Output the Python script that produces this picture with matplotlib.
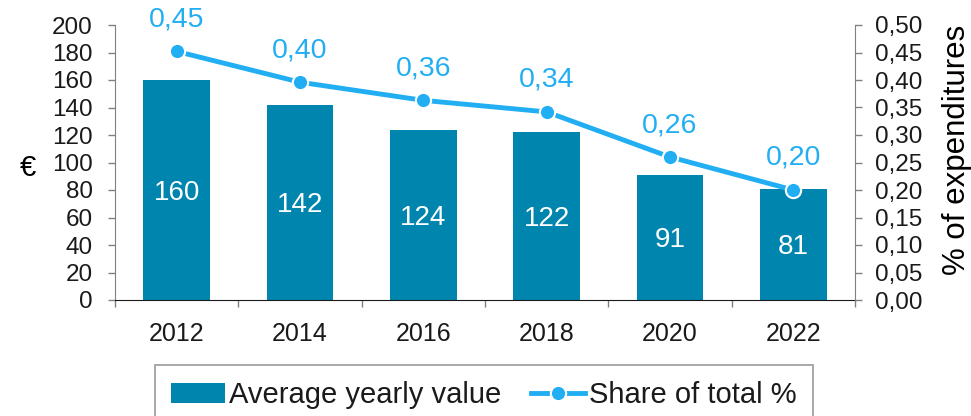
#! /usr/bin/env python3
"""
Average yearly value and share of total expenditures, bars plus line
"""

import matplotlib
matplotlib.use("Agg")
import matplotlib.pyplot as plt
from matplotlib.ticker import FixedLocator, FuncFormatter

years = ["2012", "2014", "2016", "2018", "2020", "2022"]
avg_value = [160, 142, 124, 122, 91, 81]
share_total = [0.452, 0.396, 0.363, 0.342, 0.260, 0.200]
left_ticks = list(range(0, 201, 20))
right_ticks = [i * 0.05 for i in range(11)]


def comma(v, pos=None):
    return f"{v:.2f}".replace(".", ",")


def main():
    colour_bar, colour_line = "#0086ae", "#22aef2"
    colour_text, colour_grey = "#1a1a1a", "#808080"
    plt.rcParams["font.family"] = ["Liberation Sans", "DejaVu Sans"]
    plt.rcParams["text.color"] = colour_text
    plt.rcParams["xtick.color"] = colour_text
    plt.rcParams["ytick.color"] = colour_text

    fig = plt.figure(figsize=(9.71, 4.16), dpi=100)
    ax = fig.add_axes([115 / 971, 1 - 300 / 416, 740 / 971, 275 / 416])
    ax2 = ax.twinx()

    x = list(range(len(years)))
    bars = ax.bar(x, avg_value, width=0.54, color=colour_bar,
                  label="Average yearly value", zorder=2)
    for xi, v in zip(x, avg_value):
        ax.text(xi, v / 2, f"{v}", color="white", fontsize=20,
                ha="center", va="center_baseline", zorder=3)

    ax.set_xlim(-0.5, len(years) - 0.5)
    ax.set_ylim(0, 200)
    ax.set_yticks(left_ticks)
    ax.set_xticks(x)
    ax.set_xticklabels(years)
    ax.xaxis.set_minor_locator(FixedLocator([i - 0.5 for i in range(len(years) + 1)]))
    ax.tick_params(axis="x", which="major", length=0, pad=16, labelsize=18)
    ax.tick_params(axis="x", which="minor", length=5, width=1,
                   color=colour_grey, direction="out")
    ax.tick_params(axis="y", length=5, width=1, color=colour_grey,
                   direction="out", pad=11, labelsize=17.5)
    ax.set_ylabel("€", rotation=0, fontsize=21, va="center")
    ax.yaxis.set_label_coords(-0.118, 0.48)

    for side in ["top", "right"]:
        ax.spines[side].set_visible(False)
    ax.spines["left"].set_color(colour_grey)
    ax.spines["bottom"].set_color(colour_text)
    ax.spines["bottom"].set_zorder(4)

    line, = ax2.plot(x, share_total, color=colour_line, linewidth=3.5,
                     marker="o", markersize=11, markerfacecolor=colour_line,
                     markeredgecolor="white", markeredgewidth=1.5,
                     label="Share of total %", zorder=5)
    for xi, v in zip(x, share_total):
        ax2.annotate(comma(v), xy=(xi, v), xytext=(0, 18),
                     textcoords="offset points", ha="center", va="baseline",
                     color=colour_line, fontsize=20.5)
    ax2.set_ylim(0, 0.5)
    ax2.set_yticks(right_ticks)
    ax2.yaxis.set_major_formatter(FuncFormatter(comma))
    ax2.tick_params(axis="y", length=5, width=1, color=colour_grey,
                    direction="out", pad=9.5, labelsize=17.5)
    ax2.set_ylabel("% of expenditures", fontsize=22.5, labelpad=14)
    ax2.yaxis.label.set_y(0.545)
    for side in ["top", "left", "bottom"]:
        ax2.spines[side].set_visible(False)
    ax2.spines["right"].set_color(colour_grey)

    leg = fig.legend(handles=[bars, line], loc="upper center",
                     bbox_to_anchor=(484 / 971, 1 - 365 / 416), ncol=2,
                     fontsize=21, frameon=True, fancybox=False,
                     edgecolor=colour_grey, borderpad=0.55,
                     handlelength=1.85, handleheight=0.67, handletextpad=0.15,
                     columnspacing=1.0, borderaxespad=0)
    leg.get_frame().set_linewidth(1.2)

    fig.savefig("out.png", dpi=100)


if __name__ == "__main__":
    main()
